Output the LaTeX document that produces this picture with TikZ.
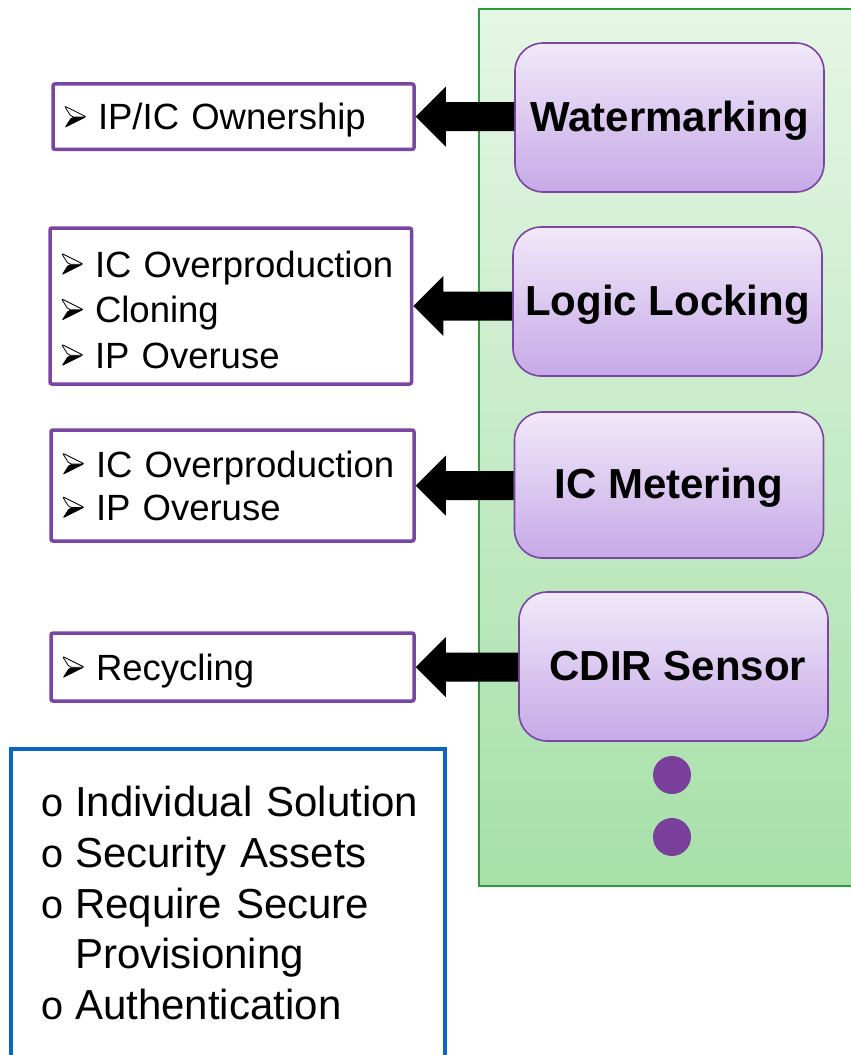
\documentclass[tikz,border=0pt]{standalone}
\usepackage{fontspec}
\setmainfont{Liberation Sans}
\newfontfamily\ringfont{Liberation Mono}
\usetikzlibrary{calc}

\definecolor{panelTop}{HTML}{E5F6E5}
\definecolor{panelBot}{HTML}{A7E0A9}
\definecolor{panelLine}{HTML}{2E9B3E}
\definecolor{techTop}{HTML}{F1E9F9}
\definecolor{techBot}{HTML}{C6A9E7}
\definecolor{purpleLine}{HTML}{7B45A3}
\definecolor{dotPurple}{HTML}{7A3F9B}
\definecolor{blueLine}{HTML}{0A66C2}

% list markers: a top-lit arrowhead and a ring
\newcommand{\threatmark}{\makebox[34pt][l]{\tikz[x=1pt,y=1pt,baseline=0pt,line join=miter]{%
  \fill[black] (0,2) -- (22,13) -- (7,13) -- cycle;
  \draw[black, line width=0.8pt, fill=white] (0,24) -- (22,13) -- (7,13) -- cycle;}}}
\newcommand{\ringmark}{\makebox[35pt][l]{\ringfont\fontsize{40}{40}\selectfont o}}

% left-pointing block arrow from a technique box (#1) to its threat box (#2)
\newcommand{\blockarrow}[2]{%
  \fill[black] (#2.east) -- ++(30,-30) -- ++(0,15.5)
    -- ($(#1.west |- #2.east)+(0,-14.5)$) -- ++(0,29)
    -- ($(#2.east)+(30,14.5)$) -- ++(0,15.5) -- cycle;
}

\tikzset{
  tech/.style={rounded corners=28pt, draw=purpleLine, line width=1.6pt,
    top color=techTop, bottom color=techBot,
    minimum width=309pt, minimum height=149pt, inner sep=0pt,
    text height=30pt, text depth=3pt,
    font=\fontsize{42}{42}\selectfont\bfseries},
  threat/.style={draw=purpleLine, line width=3.5pt, rounded corners=2pt,
    fill=white, align=left, inner xsep=11pt, inner ysep=0pt,
    text height=26.5pt, text depth=0pt,
    font=\fontsize{36.5}{45.5}\selectfont},
  dot/.style={circle, fill=dotPurple, minimum size=38pt, inner sep=0pt},
}

\begin{document}
\begin{tikzpicture}[x=1pt, y=-1pt]
\useasboundingbox (0,0) rectangle (851,1055);

% green panel holding the techniques
\path[draw=panelLine, line width=1.5pt, top color=panelTop, bottom color=panelBot]
  (479,9) rectangle (880,886);

% techniques
\node[tech] (W) at (669.5,117.5) {Watermarking};
\node[tech] (L) at (667.5,301.5) {Logic Locking};
\node[tech, minimum height=146pt] (M) at (669,485) {IC Metering};
\node[tech] (C) at (673.5,666.5) {\kern9pt CDIR Sensor};
\node[dot] (d1) at (672,775) {};
\node[dot] (d2) at (672,837) {};

% threats addressed
\node[threat, minimum width=361pt, minimum height=65.5pt, text width=339pt]
  (t1) at (233.5,116.7) {\threatmark IP/IC Ownership};
\node[threat, minimum width=361.5pt, minimum height=156pt, text width=339.5pt,
  text height=33.5pt, text depth=91pt]
  (t2) at (230.75,306) {\threatmark IC Overproduction\\\threatmark Cloning\\\threatmark IP Overuse};
\node[threat, minimum width=363pt, minimum height=111pt, text width=341pt,
  font=\fontsize{36.5}{43.5}\selectfont, text depth=43.5pt]
  (t3) at (232.5,485.5) {\threatmark IC Overproduction\\\threatmark IP Overuse};
\node[threat, minimum width=363pt, minimum height=68pt, text width=341pt]
  (t4) at (232.5,667) {\threatmark Recycling};

\blockarrow{W}{t1}
\blockarrow{L}{t2}
\blockarrow{M}{t3}
\blockarrow{C}{t4}

% common properties
\draw[blueLine, line width=4pt] (10.8,748.5) rectangle (444.5,1080);
\node[anchor=north west, inner sep=0pt, align=left, text width=400pt,
  font=\fontsize{42}{50.7}\selectfont] (props) at (40,786)
  {\ringmark Individual Solution\\
   \ringmark Security Assets\\
   \ringmark Require Secure\\
   \hspace*{35pt}Provisioning\\
   \ringmark Authentication};
\end{tikzpicture}
\end{document}
